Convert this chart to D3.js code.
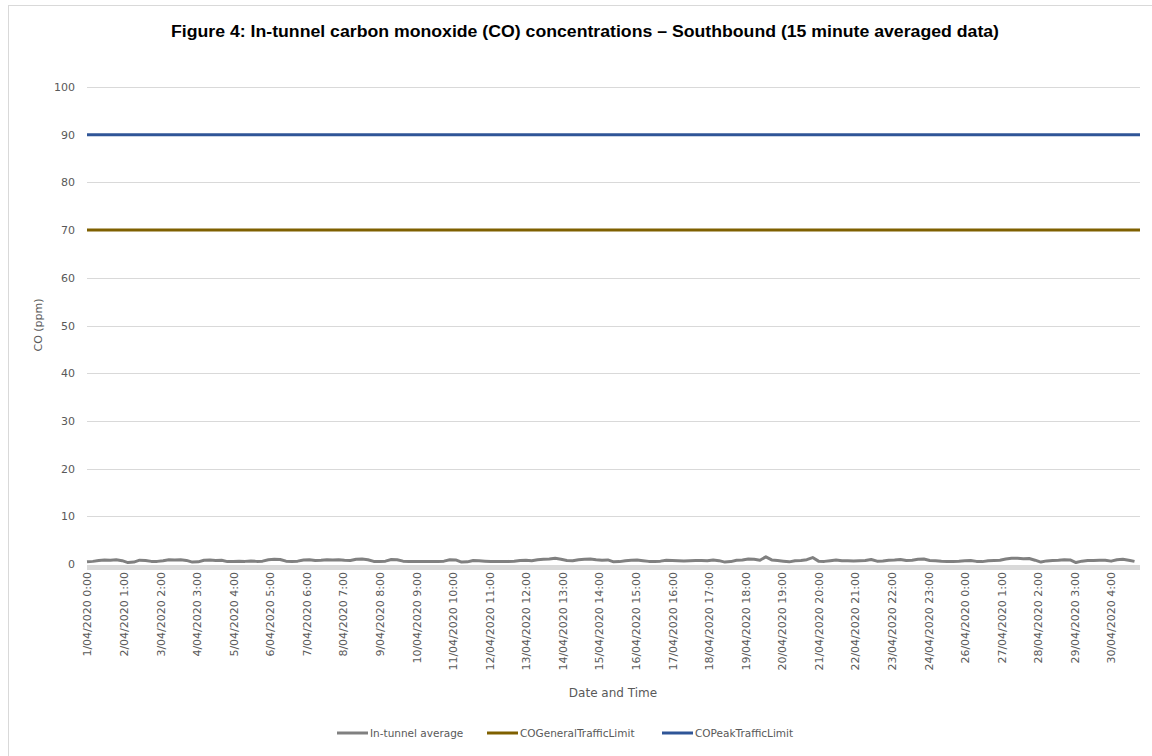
<!DOCTYPE html>
<html>
<head>
<meta charset="utf-8">
<script src="https://cdn.jsdelivr.net/npm/d3@7"></script>
<style>
	html, body { margin: 0; padding: 0; background: #fff; }
	svg { display: block; }
	text { font-family: 'DejaVu Sans', sans-serif; fill: #595959; }
</style>
</head>
<body>
<div id="chart"></div>
<script>
// 15-minute categories, 1/04/2020 0:00 .. 30/04/2020 23:45
const pointCount = 2880;
// in-tunnel average every 4 h (16 categories)
const sampleStep = 16;
const inTunnelAverage = [
	0.45, 0.55, 0.75, 0.85, 0.8, 0.9, 0.7, 0.3, 0.4, 0.8,
	0.75, 0.55, 0.55, 0.7, 0.9, 0.85, 0.9, 0.75, 0.4, 0.45,
	0.8, 0.85, 0.75, 0.8, 0.5, 0.5, 0.6, 0.55, 0.65, 0.55,
	0.6, 0.9, 1.0, 0.95, 0.6, 0.55, 0.6, 0.85, 0.9, 0.75,
	0.8, 0.9, 0.85, 0.9, 0.8, 0.75, 1.0, 1.05, 0.9, 0.55,
	0.55, 0.6, 0.95, 0.9, 0.6, 0.55, 0.5, 0.5, 0.5, 0.55,
	0.5, 0.6, 0.9, 0.85, 0.4, 0.45, 0.75, 0.7, 0.6, 0.5,
	0.55, 0.5, 0.55, 0.6, 0.75, 0.8, 0.7, 0.9, 1.0, 1.05,
	1.2, 1.0, 0.75, 0.7, 0.9, 1.0, 1.05, 0.9, 0.8, 0.85,
	0.45, 0.5, 0.7, 0.8, 0.85, 0.7, 0.55, 0.55, 0.6, 0.8,
	0.75, 0.7, 0.65, 0.7, 0.75, 0.75, 0.7, 0.85, 0.7, 0.4,
	0.5, 0.8, 0.85, 1.05, 1.0, 0.8, 1.5, 0.85, 0.75, 0.6,
	0.45, 0.7, 0.75, 0.9, 1.35, 0.6, 0.55, 0.7, 0.85, 0.7,
	0.7, 0.65, 0.7, 0.75, 0.95, 0.6, 0.65, 0.8, 0.85, 0.95,
	0.75, 0.8, 1.0, 1.05, 0.75, 0.7, 0.6, 0.55, 0.55, 0.6,
	0.7, 0.75, 0.55, 0.5, 0.7, 0.75, 0.8, 1.05, 1.2, 1.2,
	1.1, 1.15, 0.8, 0.4, 0.65, 0.75, 0.8, 0.9, 0.85, 0.3,
	0.6, 0.75, 0.75, 0.8, 0.8, 0.6, 0.9, 1.0, 0.8, 0.55
];
const generalTrafficLimit = 70;
const peakTrafficLimit = 90;

// one label every 100 categories
const tickStep = 100;
const tickLabels = [
	'1/04/2020 0:00', '2/04/2020 1:00', '3/04/2020 2:00', '4/04/2020 3:00',
	'5/04/2020 4:00', '6/04/2020 5:00', '7/04/2020 6:00', '8/04/2020 7:00',
	'9/04/2020 8:00', '10/04/2020 9:00', '11/04/2020 10:00', '12/04/2020 11:00',
	'13/04/2020 12:00', '14/04/2020 13:00', '15/04/2020 14:00', '16/04/2020 15:00',
	'17/04/2020 16:00', '18/04/2020 17:00', '19/04/2020 18:00', '20/04/2020 19:00',
	'21/04/2020 20:00', '22/04/2020 21:00', '23/04/2020 22:00', '24/04/2020 23:00',
	'26/04/2020 0:00', '27/04/2020 1:00', '28/04/2020 2:00', '29/04/2020 3:00',
	'30/04/2020 4:00'
];
const yTicks = [0, 10, 20, 30, 40, 50, 60, 70, 80, 90, 100];

const legendItems = [
	{name: 'In-tunnel average', color: '#808080'},
	{name: 'COGeneralTrafficLimit', color: '#7f6000'},
	{name: 'COPeakTrafficLimit', color: '#2f5597'}
];

const width = 1152;
const height = 756;
const margin = {top: 87, right: 12, bottom: 192, left: 87};

const svg = d3.select('#chart').append('svg')
	.attr('width', width)
	.attr('height', height);

// chart area border
svg.append('rect')
	.attr('x', 8.5).attr('y', 5.5)
	.attr('width', width - 6).attr('height', height)
	.attr('fill', '#fff')
	.attr('stroke', '#d9d9d9');

const x = d3.scaleLinear()
	.domain([0, pointCount - 1])
	.range([margin.left, width - margin.right]);
const y = d3.scaleLinear()
	.domain([0, 100])
	.range([height - margin.bottom, margin.top]);

svg.append('text')
	.attr('x', 585).attr('y', 37)
	.attr('text-anchor', 'middle')
	.attr('textLength', 828)
	.attr('lengthAdjust', 'spacingAndGlyphs')
	.style('font-family', "'Liberation Sans Narrow', 'Liberation Sans', sans-serif")
	.style('font-weight', 'bold')
	.style('font-size', '16px')
	.style('fill', '#000')
	.text('Figure 4: In-tunnel carbon monoxide (CO) concentrations – Southbound (15 minute averaged data)');

// gridlines
svg.append('g')
	.selectAll('line')
	.data(yTicks.filter(d => d > 0))
	.enter().append('line')
	.attr('x1', x(0)).attr('x2', x(pointCount - 1))
	.attr('y1', d => Math.round(y(d)) + 0.5)
	.attr('y2', d => Math.round(y(d)) + 0.5)
	.attr('stroke', '#d9d9d9')
	.attr('stroke-width', 1);

// y labels
const yAxis = d3.axisLeft(y).tickValues(yTicks).tickSize(0).tickPadding(12);
svg.append('g')
	.attr('transform', `translate(${margin.left},0)`)
	.call(yAxis)
	.call(g => g.select('.domain').remove())
	.call(g => g.selectAll('text').style('font-size', '11px').style('fill', '#595959'));

// thick pale axis band under zero
svg.append('rect')
	.attr('x', x(0)).attr('y', y(0) + 1)
	.attr('width', x(pointCount - 1) - x(0)).attr('height', 5)
	.attr('fill', '#d9d9d9');

// x labels
const xAxis = d3.axisBottom(x)
	.tickValues(tickLabels.map((d, i) => i * tickStep))
	.tickFormat((d, i) => tickLabels[i])
	.tickSize(0);
svg.append('g')
	.attr('transform', `translate(0,${y(0) + 8})`)
	.call(xAxis)
	.call(g => g.select('.domain').remove())
	.call(g => g.selectAll('text')
		.style('font-size', '11px')
		.style('fill', '#595959')
		.attr('text-anchor', 'end')
		.attr('transform', 'rotate(-90)')
		.attr('x', 0).attr('y', 0).attr('dx', 0).attr('dy', '0.35em'));

// limit lines
const limitLine = d3.line()
	.x(d => x(d[0]))
	.y(d => y(d[1]));
svg.append('path')
	.datum([[0, generalTrafficLimit], [pointCount - 1, generalTrafficLimit]])
	.attr('d', limitLine)
	.attr('fill', 'none')
	.attr('stroke', legendItems[1].color)
	.attr('stroke-width', 3);
svg.append('path')
	.datum([[0, peakTrafficLimit], [pointCount - 1, peakTrafficLimit]])
	.attr('d', limitLine)
	.attr('fill', 'none')
	.attr('stroke', legendItems[2].color)
	.attr('stroke-width', 3);

// in-tunnel average
const avgLine = d3.line()
	.x((d, i) => x(i * sampleStep))
	.y(d => y(d));
svg.append('path')
	.datum(inTunnelAverage)
	.attr('d', avgLine)
	.attr('fill', 'none')
	.attr('stroke', legendItems[0].color)
	.attr('stroke-width', 3)
	.attr('stroke-linejoin', 'round');

// axis titles
svg.append('text')
	.attr('x', 613).attr('y', 697)
	.attr('text-anchor', 'middle')
	.style('font-size', '12px')
	.text('Date and Time');
svg.append('text')
	.attr('transform', 'translate(42,325) rotate(-90)')
	.attr('text-anchor', 'middle')
	.style('font-size', '11px')
	.text('CO (ppm)');

// legend
const legendX = [337, 487, 662];
const legend = svg.append('g')
	.selectAll('g')
	.data(legendItems)
	.enter().append('g')
	.attr('transform', (d, i) => `translate(${legendX[i]},733)`);
legend.append('line')
	.attr('x1', 0).attr('x2', 31)
	.attr('stroke', d => d.color)
	.attr('stroke-width', 3);
legend.append('text')
	.attr('x', 33).attr('dy', '0.35em')
	.style('font-size', '10.5px')
	.text(d => d.name);
</script>
</body>
</html>
